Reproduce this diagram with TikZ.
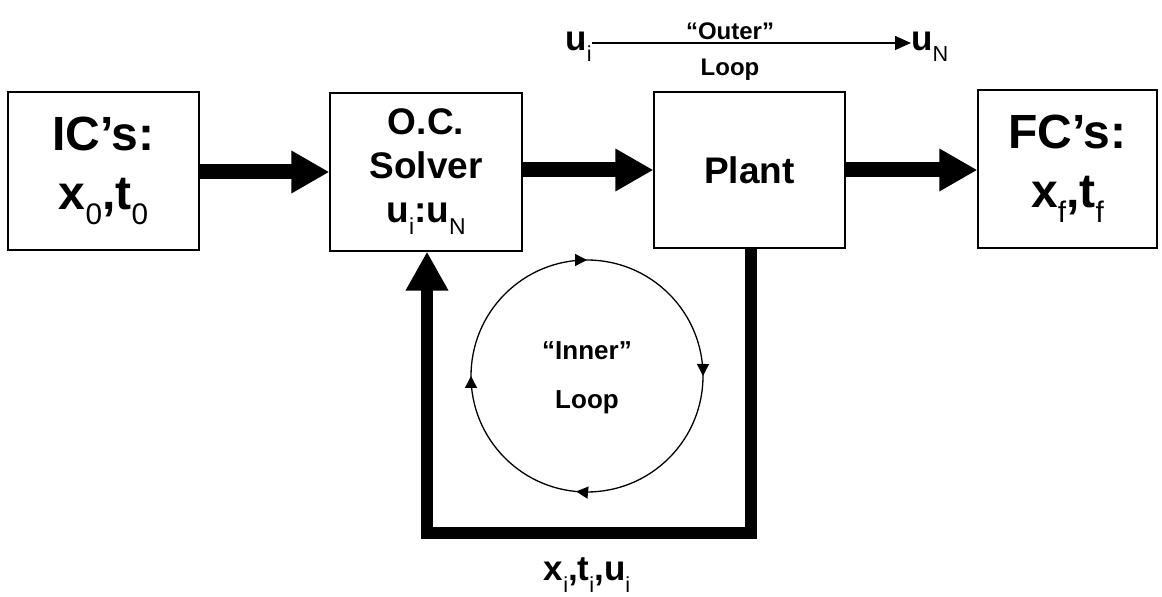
\documentclass[tikz,border=0pt]{standalone}
\usepackage{fontspec}
\usepackage{graphicx}
\setmainfont{Liberation Sans}
\usetikzlibrary{arrows.meta,decorations.markings}
\newcommand\subs[1]{\raisebox{-0.32em}{\scalebox{0.62}{\mdseries #1}}}
\begin{document}
\begin{tikzpicture}[x=1pt,y=1pt,
  blk/.style={draw,line width=1.2pt,minimum width=#1,minimum height=158pt,inner sep=0pt,align=center},
  bigarrow/.style={line width=15pt,-{Triangle[length=38pt,width=40pt]}},
  fbarrow/.style={line width=12pt,line join=miter,-{Triangle[length=39pt,width=40pt]}},
  lbl/.style={inner sep=0pt}]
\useasboundingbox (0,0) rectangle (1162,597);
\node[blk=191pt,font=\bfseries\fontsize{48}{59}\selectfont] (ic) at (103.5,426) {IC’s:\\x\subs{0},t\subs{0}};
\node[blk=192pt,font=\bfseries\fontsize{37}{44}\selectfont] (oc) at (426,425) {O.C.\\Solver\\u\subs{i}:u\subs{N}};
\node[blk=191pt,minimum height=156pt,font=\bfseries\fontsize{37}{44}\selectfont] (pl) at (749.5,427) {Plant};
\node[blk=179pt,font=\bfseries\fontsize{48}{59}\selectfont] (fc) at (1067.5,428) {FC’s:\\x\subs{f},t\subs{f}};
\draw[bigarrow] (ic.east |- 0,425) -- (oc.west |- 0,425);
\draw[bigarrow] (oc.east |- 0,427) -- (pl.west |- 0,427);
\draw[bigarrow] (pl.east |- 0,427) -- (fc.west |- 0,427);
\coordinate (fb1) at (751,64);
\coordinate (fb2) at (427,64);
\draw[fbarrow] (pl.south -| fb1) -- (fb1) -- (fb2) -- (oc.south -| fb2);
\node[lbl,font=\bfseries\fontsize{35}{40}\selectfont] (xl) at (587,22) {x\subs{i},t\subs{i},u\subs{i}};
% inner loop
\draw[line width=1.3pt,postaction={decorate},decoration={markings,
  mark=at position 0.125 with {\arrow{Triangle[length=12pt,width=12pt]}},
  mark=at position 0.375 with {\arrow{Triangle[length=12pt,width=12pt]}},
  mark=at position 0.64 with {\arrow{Triangle[length=12pt,width=12pt]}},
  mark=at position 0.875 with {\arrow{Triangle[length=12pt,width=12pt]}}}]
  (587,221) ++(135:116) arc[start angle=135,end angle=-225,radius=116];
\node[lbl,font=\bfseries\fontsize{26}{30}\selectfont] (inn) at (587,246) {“Inner”};
\node[lbl,font=\bfseries\fontsize{26}{30}\selectfont] (inl) at (587,195) {Loop};
% outer loop
\node[lbl,anchor=east,font=\bfseries\fontsize{35}{40}\selectfont] (ui) at (592,550) {u\subs{i}};
\node[lbl,anchor=west,font=\bfseries\fontsize{35}{40}\selectfont] (un) at (911,550) {u\subs{N}};
\draw[line width=1.5pt,-{Triangle[length=16pt,width=14pt]}] (ui.east |- 0,554) -- (un.west |- 0,554);
\node[lbl,font=\bfseries\fontsize{24}{28}\selectfont] (ot) at (730,566) {“Outer”};
\node[lbl,font=\bfseries\fontsize{24}{28}\selectfont] (ol) at (730,527) {Loop};
\end{tikzpicture}
\end{document}
